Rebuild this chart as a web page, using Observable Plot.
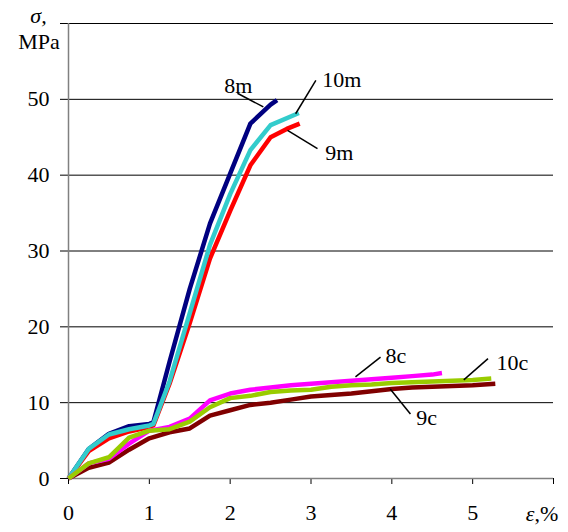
<!DOCTYPE html>
<html><head><meta charset="utf-8">
<script src="https://cdn.jsdelivr.net/npm/d3@7"></script>
<script src="https://cdn.jsdelivr.net/npm/@observablehq/plot@0.6"></script>
<style>body{margin:0;background:#fff;} svg{display:block;}</style>
</head><body><div id="chart"></div>
<script>
// ---- data (strain %, stress MPa) ----
const strain8m  = [0, 0.25, 0.5, 0.75, 1.0, 1.05, 1.25, 1.5, 1.75, 2.0, 2.25, 2.5, 2.58];
const stress8m  = [0, 3.9, 5.9, 6.9, 7.2, 7.4, 15.4, 25.0, 33.6, 40.2, 46.8, 49.3, 49.9];
const strain9m  = [0, 0.25, 0.5, 0.75, 1.0, 1.05, 1.25, 1.5, 1.75, 2.0, 2.25, 2.5, 2.7, 2.86];
const stress9m  = [0, 3.6, 5.3, 6.2, 6.8, 7.0, 12.5, 20.5, 29.0, 35.3, 41.3, 45.0, 46.1, 46.8];
const strain10m = [0, 0.25, 0.5, 0.75, 1.0, 1.05, 1.25, 1.5, 1.75, 2.0, 2.25, 2.5, 2.85];
const stress10m = [0, 3.9, 5.8, 6.5, 7.0, 7.2, 12.8, 21.8, 30.8, 37.5, 43.3, 46.6, 48.2];
const strain8c  = [0, 0.25, 0.5, 0.75, 1.0, 1.25, 1.5, 1.75, 2.0, 2.25, 2.5, 2.75, 3.0, 3.25, 3.5, 3.75, 4.0, 4.25, 4.5, 4.62];
const stress8c  = [0, 2.0, 2.6, 4.6, 6.3, 6.8, 7.9, 10.3, 11.2, 11.7, 12.0, 12.3, 12.5, 12.7, 12.9, 13.1, 13.3, 13.5, 13.7, 13.9];
const strain9c  = [0, 0.25, 0.5, 0.75, 1.0, 1.25, 1.5, 1.75, 2.0, 2.25, 2.5, 2.75, 3.0, 3.25, 3.5, 3.75, 4.0, 4.25, 4.5, 4.75, 5.0, 5.28];
const stress9c  = [0, 1.4, 2.1, 3.8, 5.3, 6.1, 6.6, 8.3, 9.0, 9.7, 10.0, 10.4, 10.8, 11.0, 11.2, 11.5, 11.8, 12.0, 12.1, 12.2, 12.3, 12.5];
const strain10c = [0, 0.25, 0.5, 0.75, 1.0, 1.25, 1.5, 1.75, 2.0, 2.25, 2.5, 2.75, 3.0, 3.25, 3.5, 3.75, 4.0, 4.25, 4.5, 4.75, 5.0, 5.23];
const stress10c = [0, 2.0, 2.8, 5.4, 6.3, 6.5, 7.5, 9.4, 10.6, 10.9, 11.4, 11.6, 11.7, 12.1, 12.3, 12.4, 12.6, 12.7, 12.8, 12.9, 13.0, 13.2];

const seriesNames = ["8m", "9m", "10m", "9c", "8c", "10c"];
const seriesColors = ["#000080", "#FF0000", "#33CCCC", "#800000", "#FF00FF", "#99CC00"];
const seriesStrain = [strain8m, strain9m, strain10m, strain9c, strain8c, strain10c];
const seriesStress = [stress8m, stress9m, stress10m, stress9c, stress8c, stress10c];

const xTicks = [0, 1, 2, 3, 4, 5, 6];
const yTicks = [0, 10, 20, 30, 40, 50, 60];
const gridY = [10, 20, 30, 40, 50, 60];

// label annotations, in data units
const labelNames = ["8m", "10m", "9m", "8c", "10c", "9c"];
const labelX = [2.10, 3.38, 3.35, 4.05, 5.49, 4.43];
const labelY = [51.7, 52.5, 42.9, 16.1, 15.3, 8.0];
const leaderX1 = [2.09, 3.06, 3.08, 3.86, 5.19, 4.23];
const leaderY1 = [50.8, 52.5, 43.5, 16.0, 15.8, 8.5];
const leaderX2 = [2.41, 2.81, 2.71, 3.55, 4.89, 3.98];
const leaderY2 = [49.0, 48.1, 45.9, 13.4, 13.0, 11.8];

const rows = seriesNames.flatMap((n, k) => seriesStrain[k].map((x, i) => ({series: n, x, y: seriesStress[k][i]})));
const labels = labelNames.map((n, i) => ({name: n, tx: labelX[i], ty: labelY[i], x1: leaderX1[i], y1: leaderY1[i], x2: leaderX2[i], y2: leaderY2[i]}));

const font = "'Liberation Serif', 'Times New Roman', Times, serif";

const plot = Plot.plot({
  width: 568, height: 532,
  marginLeft: 68, marginRight: 15, marginTop: 23, marginBottom: 54,
  style: {fontFamily: font, fontSize: "22px", background: "#fff", color: "#000", overflow: "visible"},
  x: {domain: [0, 6]},
  y: {domain: [0, 60]},
  color: {domain: seriesNames, range: seriesColors},
  marks: [
    Plot.ruleY(gridY, {x1: 0, x2: 6, stroke: "#000", strokeWidth: 1}),
    Plot.axisY({ticks: yTicks, tickSize: 8, tickPadding: 11, tickFormat: d => d === 60 ? "" : String(d), label: null, fontSize: 22, stroke: "#000"}),
    Plot.axisX({ticks: xTicks, tickSize: 6, tickPadding: 20, tickFormat: d => d === 6 ? "" : String(d), label: null, fontSize: 22, stroke: "#000"}),
    Plot.ruleX([0], {stroke: "#808080", strokeWidth: 1.5}),
    Plot.ruleY([0], {x1: 0, x2: 6, stroke: "#808080", strokeWidth: 1.5}),
    Plot.line(rows, {x: "x", y: "y", z: "series", stroke: "series", strokeWidth: 4.5, strokeLinejoin: "round", strokeLinecap: "butt"}),
    Plot.link(labels, {x1: "x1", y1: "y1", x2: "x2", y2: "y2", stroke: "#000", strokeWidth: 1.5}),
    Plot.text(labels, {x: "tx", y: "ty", text: "name", fontSize: 22, fill: "#000"}),
    // axis titles
    Plot.text(["σ,"], {x: 0, y: 60, dx: -30, dy: -8, text: d => d, fontSize: 22, fontStyle: "italic", fill: "#000"}),
    Plot.text(["MPa"], {x: 0, y: 60, dx: -29.5, dy: 18, text: d => d, fontSize: 22, fill: "#000"}),
    Plot.text(["ε"], {x: 6, y: 0, dx: -19, dy: 35, text: d => d, textAnchor: "end", fontSize: 22, fontStyle: "italic", fill: "#000"}),
    Plot.text([",%"], {x: 6, y: 0, dx: -19, dy: 35, text: d => d, textAnchor: "start", fontSize: 22, fill: "#000"})
  ]
});
document.getElementById("chart").appendChild(plot);
</script>
</body></html>
